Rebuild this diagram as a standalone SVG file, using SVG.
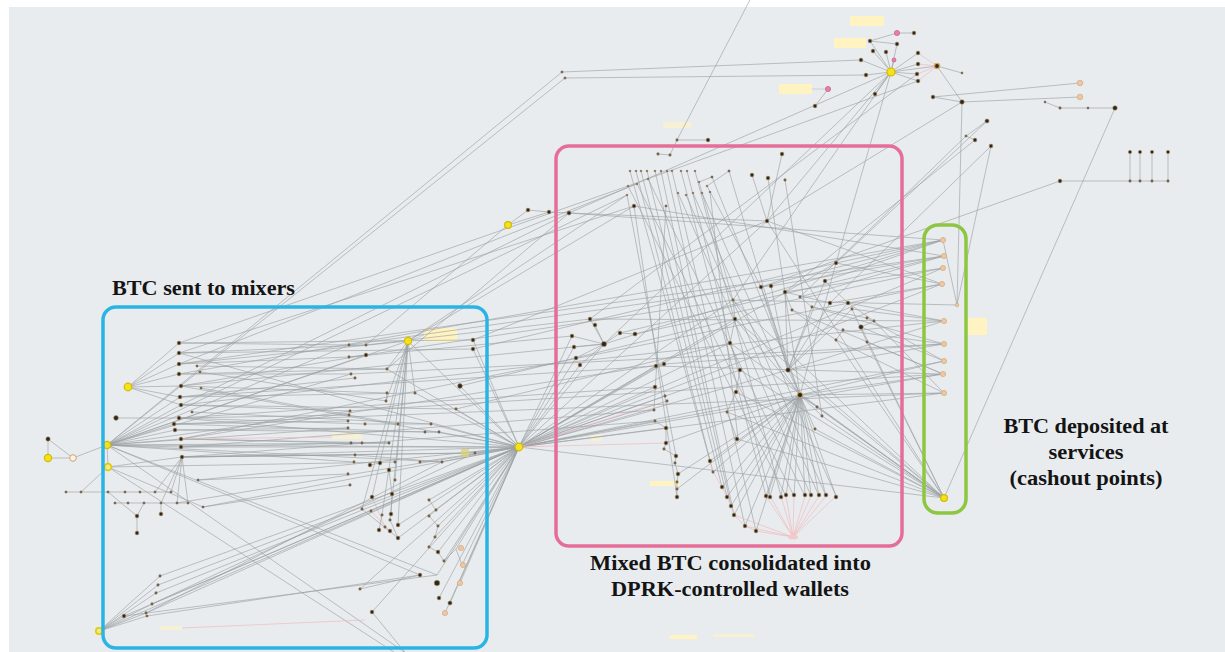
<svg xmlns="http://www.w3.org/2000/svg" width="1225" height="652" viewBox="0 0 1225 652">
<style>
.bg{fill:#e9ecef}
.e path{fill:none;stroke:#9aa0a4;stroke-width:0.75;stroke-opacity:0.85}
.e path.p{stroke:#efb9bd;stroke-opacity:0.9}
.e path.f{stroke-opacity:0.5}
.y{fill:#f3e21c;stroke:#d2bb00;stroke-width:1.2}
.yo{fill:#f2ea86;stroke:#e2c900;stroke-width:1.6}
.d{fill:#2b2722;stroke:#b99360;stroke-width:0.6}
.s{fill:#5c554d;stroke:#c2a27a;stroke-width:0.4}
.o{fill:#ebc9a4;stroke:#d6a679;stroke-width:0.7}
.pk{fill:#e67fa9;stroke:#c85a88;stroke-width:0.7}
.w{fill:#fbf3e8;stroke:#d2a174;stroke-width:1}
.lb{fill:#fff3c2}
.lf{fill:#fff3c2;opacity:0.6}
.box{fill:none;stroke-width:3.5}
.t{font-family:"Liberation Serif","Times New Roman",serif;font-weight:bold;font-size:21px;fill:#141414}
</style>
<rect x="0" y="0" width="1225" height="652" fill="#ffffff"/>
<rect class="bg" x="9" y="7" width="1216" height="645"/>
<g id="labels-rects">
<rect class="lb" x="424" y="328" width="33" height="14"/>
<rect class="lf" x="332" y="433" width="30" height="6"/>
<rect class="lb" x="850" y="16" width="34" height="10"/>
<rect class="lb" x="834" y="38" width="32" height="10"/>
<rect class="lb" x="779" y="84" width="33" height="10"/>
<rect class="lf" x="663" y="122" width="28" height="6"/>
<rect class="lb" x="650" y="481" width="30" height="5"/>
<rect class="lb" x="965" y="318" width="22" height="17"/>
<rect class="lb" x="670" y="635" width="27" height="4"/>
<rect class="lf" x="713" y="634" width="42" height="3"/>
<rect class="lf" x="590" y="435" width="12" height="6"/>
<rect class="lf" x="160" y="626" width="22" height="4"/>
</g>
<g id="connectors" class="e">
<path d="M562 72L861 60"/><path d="M565 78L866 75"/><path d="M562 72L107 445"/><path d="M565 78L107 445"/>
<path d="M752 -4L677 140"/><path d="M677 140L708 140"/><path d="M677 140L670 155"/>
<path d="M891 72L870 41"/><path d="M891 72L873 51"/><path d="M891 72L886 52"/><path d="M891 72L861 60"/><path d="M891 72L866 75"/><path d="M891 72L918 53"/><path d="M891 72L918 64"/><path d="M891 72L917 74"/><path d="M891 72L918 81"/><path d="M891 72L875 94"/><path d="M891 72L897 44"/><path d="M891 72L894 60"/><path d="M891 72L937 66"/>
<path d="M897 33L914 33"/><path d="M870 41L897 33"/><path d="M870 41L897 44"/><path d="M828 89L815 106"/><path class="f" d="M812 89L828 89"/>
<path class="p" d="M937 66L918 53"/><path class="p" d="M937 66L918 64"/><path class="p" d="M937 66L917 74"/><path class="p" d="M937 66L918 81"/><path d="M937 66L962 73"/><path d="M937 66L962 102"/>
<path d="M933 97L1080 83"/><path d="M962 102L1080 97"/><path d="M933 97L962 102"/>
<path d="M1045 102L1060 108"/><path d="M1060 108L1088 108"/><path d="M1088 108L1115 108"/><path d="M1115 108L944 498"/>
<path d="M962 102L957 305"/><path d="M991 146L957 305"/>
<path d="M1060 181L1168 181"/><path d="M1130 152L1130 181"/><path d="M1140 152L1140 181"/><path d="M1152 152L1152 181"/><path d="M1168 152L1168 181"/><path d="M1060 181L761 287"/>
<path d="M891 72L836 263"/><path d="M891 72L767 221"/><path d="M891 72L733 300"/><path d="M891 72L604 344"/><path d="M891 72L569 213"/><path d="M918 81L628 186"/><path d="M917 74L590 319"/><path d="M962 102L767 221"/>
<path d="M987 121L836 263"/><path d="M966 136L800 297"/><path d="M975 140L785 292"/><path d="M991 146L830 303"/><path d="M987 121L966 136"/><path d="M966 136L975 140"/>
<path d="M508 225L528 210"/><path d="M528 210L549 212"/><path d="M508 225L549 212"/><path d="M549 212L569 213"/><path d="M569 213L767 221"/><path d="M782 154L767 221"/><path d="M658 154L670 155"/>
<path d="M630 171L710 461"/><path d="M636 171L713 472"/><path d="M641 171L722 487"/><path d="M647 171L727 497"/><path d="M655 171L731 506"/><path d="M661 171L734 515"/><path d="M667 171L745 526"/><path d="M672 171L756 531"/><path d="M681 171L766 496"/><path d="M687 171L770 496"/><path d="M695 171L781 496"/><path d="M628 186L786 496"/><path d="M637 184L794 496"/><path d="M648 179L805 496"/><path d="M627 195L676 456"/><path d="M678 193L811 496"/><path d="M686 195L819 496"/><path d="M693 193L826 496"/><path d="M702 193L836 496"/><path d="M710 192L738 439"/><path d="M712 177L800 395"/><path d="M729 171L788 370"/><path d="M752 175L767 221"/><path d="M768 178L800 395"/><path d="M785 180L822 416"/><path d="M634 206L677 497"/><path d="M666 206L654 410"/><path d="M699 182L733 300"/><path d="M707 186L761 287"/><path d="M699 182L712 177"/><path d="M707 186L729 171"/>
<path d="M604 344L590 319"/><path d="M604 344L595 325"/><path d="M604 344L572 336"/><path d="M604 344L574 347"/><path d="M604 344L576 358"/><path d="M604 344L580 365"/><path d="M604 344L620 333"/><path d="M620 333L635 334"/><path d="M604 344L519 447"/>
<path d="M519 447L572 336"/><path d="M519 447L574 347"/><path d="M519 447L576 358"/><path d="M519 447L580 365"/><path d="M519 447L656 366"/><path d="M519 447L664 364"/><path d="M519 447L655 387"/><path d="M519 447L665 396"/><path d="M519 447L667 401"/><path d="M519 447L654 410"/><path d="M519 447L655 421"/><path d="M519 447L666 428"/><path d="M519 447L800 395"/><path d="M519 447L788 370"/><path d="M519 447L735 319"/><path d="M519 447L730 343"/><path d="M519 447L740 370"/><path d="M519 447L944 498"/><path d="M519 447L944 393"/><path d="M519 447L943 374"/><path d="M519 447L944 361"/><path d="M519 447L733 300"/><path d="M519 447L767 221"/><path d="M519 447L836 263"/><path d="M519 447L943 268"/><path d="M519 447L942 284"/><path class="p" d="M519 447L654 404"/><path class="p" d="M519 447L666 443"/>
<path d="M655 421L666 428L666 443L664 449L676 456L675 463L678 474L677 482L677 489L677 497"/>
<path class="p" d="M710 461L713 472L722 487L727 497L731 506L734 515L745 526L756 531L793 537"/>
<path class="p" d="M766 496L793 537"/><path class="p" d="M770 496L793 537"/><path class="p" d="M781 496L793 537"/><path class="p" d="M786 496L793 537"/><path class="p" d="M794 496L793 537"/><path class="p" d="M805 496L793 537"/><path class="p" d="M811 496L793 537"/><path class="p" d="M819 496L793 537"/><path class="p" d="M826 496L793 537"/><path class="p" d="M836 496L793 537"/><path class="p" d="M745 526L793 537"/><path class="p" d="M734 515L793 537"/>
<path d="M800 395L766 496"/><path d="M800 395L770 496"/><path d="M800 395L781 496"/><path d="M800 395L786 496"/><path d="M800 395L794 496"/><path d="M800 395L805 496"/><path d="M800 395L811 496"/><path d="M800 395L819 496"/><path d="M800 395L826 496"/><path d="M800 395L836 496"/>
<path d="M800 395L710 461"/><path d="M800 395L713 472"/><path d="M800 395L722 487"/><path d="M800 395L727 497"/><path d="M800 395L731 506"/><path d="M800 395L734 515"/><path d="M800 395L745 526"/><path d="M800 395L756 531"/><path d="M800 395L678 474"/><path d="M800 395L677 489"/><path d="M800 395L666 443"/>
<path d="M800 395L788 370"/><path d="M800 395L817 407"/><path d="M800 395L822 416"/><path d="M800 395L815 429"/><path d="M800 395L735 319"/><path d="M800 395L761 287"/><path d="M800 395L836 263"/><path d="M800 395L733 300"/><path d="M800 395L944 498"/><path d="M800 395L944 393"/><path d="M800 395L944 361"/><path d="M800 395L943 374"/>
<path d="M788 370L785 292"/><path d="M788 370L761 287"/><path d="M788 370L771 286"/><path d="M788 370L812 307"/><path d="M788 370L830 303"/><path d="M788 370L848 303"/><path d="M788 370L852 309"/><path d="M788 370L825 281"/><path d="M788 370L944 321"/><path d="M788 370L944 344"/><path d="M788 370L944 498"/>
<path d="M761 287L943 240"/><path d="M771 286L944 256"/><path d="M825 281L943 240"/><path d="M785 292L943 268"/><path d="M800 297L944 256"/><path d="M830 303L942 284"/><path d="M848 303L944 321"/><path d="M812 307L944 344"/><path d="M852 309L944 321"/><path d="M867 318L944 361"/><path d="M792 310L943 374"/><path d="M874 321L944 393"/><path d="M861 327L944 361"/><path d="M867 342L943 374"/><path d="M836 340L944 393"/><path d="M843 330L944 344"/><path d="M836 263L942 284"/><path d="M836 263L943 240"/>
<path d="M733 300L944 498"/><path d="M767 221L944 498"/><path d="M735 319L944 498"/><path d="M730 343L944 498"/><path d="M740 370L944 498"/><path d="M736 392L944 498"/><path d="M727 412L944 498"/><path d="M737 439L944 498"/><path d="M817 407L944 498"/><path d="M822 416L944 498"/><path d="M815 429L944 498"/><path d="M836 340L944 498"/><path d="M867 342L944 498"/><path d="M861 327L944 498"/>
<path d="M604 344L943 240"/><path d="M620 333L944 256"/><path d="M635 334L943 268"/><path d="M590 319L944 321"/><path d="M664 364L944 344"/><path d="M656 366L943 374"/><path d="M569 213L943 240"/><path d="M634 206L944 256"/><path d="M767 221L942 284"/><path d="M733 300L957 305"/><path d="M957 305L943 240"/>
<path d="M785 292L792 310"/><path d="M785 292L830 303"/><path d="M800 297L812 307"/><path d="M825 281L848 303"/><path d="M836 340L843 330"/><path d="M874 321L861 327"/><path d="M852 309L867 342"/><path d="M792 310L836 340"/><path d="M812 307L867 318"/><path d="M848 303L874 321"/><path d="M771 286L761 287"/><path d="M733 300L735 319L730 343L740 370L736 392L727 412L737 439"/>
<path d="M107 445L627 195"/><path d="M179 343L628 186"/><path d="M179 353L634 206"/><path d="M179 364L637 184"/><path d="M181 386L604 344"/><path d="M180 397L656 366"/><path d="M181 405L569 213"/><path d="M179 418L655 387"/><path d="M181 439L664 364"/><path d="M181 447L654 410"/><path d="M182 457L655 421"/>
<path d="M349 345L761 287"/><path d="M366 345L590 319"/><path d="M349 357L572 336"/><path d="M366 355L733 300"/><path d="M473 340L767 221"/><path d="M473 349L836 263"/><path d="M460 386L735 319"/><path d="M456 409L730 343"/><path d="M387 369L569 213"/><path d="M408 341L634 206"/><path d="M408 341L627 195"/><path d="M366 345L508 225"/>
<path d="M179 374L943 240"/><path d="M179 364L944 256"/><path d="M181 405L944 321"/><path d="M351 374L944 344"/><path d="M350 411L943 374"/><path d="M174 424L944 393"/><path d="M181 439L942 284"/>
<path d="M128 387L179 343"/><path d="M128 387L179 353"/><path d="M128 387L179 364"/><path d="M128 387L179 374"/><path d="M128 387L181 386"/><path d="M128 387L180 397"/><path d="M128 387L181 405"/>
<path d="M107 445L180 397"/><path d="M107 445L181 405"/><path d="M107 445L174 424"/><path d="M107 445L175 430"/><path d="M107 445L181 439"/><path d="M107 445L181 447"/><path d="M107 445L519 447"/><path d="M107 445L349 345"/><path d="M107 445L366 355"/><path d="M107 445L351 374"/><path d="M107 445L350 411"/><path d="M107 445L348 428"/><path d="M107 445L389 443"/><path d="M107 445L354 462"/><path d="M107 445L442 462"/><path d="M107 445L437 575"/><path d="M107 445L420 575"/><path d="M107 445L410 656"/><path d="M107 445L108 467"/><path d="M107 445L73 458"/><path d="M107 445L408 341"/>
<path d="M108 467L182 457"/><path d="M108 467L395 462"/><path d="M108 467L400 656"/><path d="M108 467L203 507"/><path d="M81 492L108 467"/>
<path d="M73 458L48 458"/><path d="M48 439L73 458"/><path d="M48 439L48 458"/><path d="M116 418L179 418"/>
<path d="M179 343L349 345"/><path d="M179 343L473 340"/><path d="M179 353L366 345"/><path d="M179 353L473 349"/><path d="M179 364L349 357"/><path d="M179 364L408 341"/><path d="M179 374L351 374"/><path d="M179 374L387 369"/><path d="M181 386L366 355"/><path d="M181 386L387 393"/><path d="M180 397L355 378"/><path d="M180 397L415 393"/><path d="M181 405L350 411"/><path d="M181 405L456 409"/><path d="M179 418L349 415"/><path d="M179 418L365 424"/><path d="M174 424L348 421"/><path d="M174 424L425 432"/><path d="M175 430L348 428"/><path d="M175 430L439 432"/><path d="M181 439L351 443"/><path d="M181 439L389 443"/><path d="M181 447L362 443"/><path d="M181 447L519 447"/><path d="M182 457L355 455"/><path d="M182 457L465 453"/><path d="M182 457L475 453"/><path d="M197 366L387 369"/><path d="M200 372L386 401"/><path d="M201 388L398 424"/><path d="M192 412L431 424"/><path d="M198 480L348 474"/><path d="M203 507L350 485"/><path d="M179 418L519 447"/><path class="p" d="M181 439L332 437"/>
<path d="M66 492L81 492L108 492L125 492L140 492L155 492L171 492"/><path d="M115 503L128 503L144 503L161 503L177 503L188 503"/><path d="M108 492L137 516"/><path d="M144 503L137 516"/><path d="M137 516L137 533"/><path d="M161 503L161 514"/>
<path d="M155 492L182 457"/><path d="M171 492L182 457"/><path d="M177 503L182 457"/><path d="M188 503L182 457"/><path d="M161 503L182 457"/>
<path d="M408 341L387 369"/><path d="M408 341L386 401"/><path d="M408 341L415 393"/><path d="M408 341L372 497"/><path d="M408 341L382 515"/><path d="M408 341L362 509"/><path d="M408 341L390 520"/><path d="M408 341L398 525"/><path d="M408 341L395 480"/><path d="M408 341L519 447"/><path class="f" d="M408 341L424 335"/>
<path d="M349 345L366 345"/><path d="M349 357L366 355"/><path d="M387 393L386 401"/><path d="M365 424L431 424"/><path d="M425 432L439 432"/><path d="M351 443L389 443"/><path d="M355 455L442 462"/><path d="M370 465L380 463"/><path d="M389 470L392 494L391 514"/><path class="p" d="M372 497L385 527"/><path d="M362 509L398 538"/><path class="p" d="M371 511L390 531"/><path d="M382 515L379 530"/><path d="M390 520L398 538"/>
<path d="M429 500L436 510L429 516L438 526L435 537L429 547L438 552L444 561L456 549L462 565"/>
<path d="M519 447L473 340"/><path d="M519 447L473 349"/><path d="M519 447L460 386"/><path d="M519 447L456 409"/><path d="M519 447L415 393"/><path d="M519 447L431 424"/><path d="M519 447L439 432"/><path d="M519 447L465 453"/><path d="M519 447L475 453"/><path d="M519 447L442 462"/><path d="M519 447L420 462"/><path d="M519 447L429 500"/><path d="M519 447L436 510"/><path d="M519 447L438 526"/><path d="M519 447L435 537"/><path d="M519 447L438 552"/><path d="M519 447L444 561"/><path d="M519 447L456 549"/><path d="M519 447L462 565"/><path d="M519 447L437 575"/><path d="M519 447L460 583"/><path d="M519 447L439 598"/><path d="M519 447L450 603"/><path d="M519 447L445 613"/><path d="M519 447L372 612"/><path d="M519 447L360 589"/><path d="M519 447L398 538"/><path d="M519 447L398 525"/><path d="M519 447L160 576"/><path d="M519 447L158 585"/><path d="M519 447L156 593"/><path d="M519 447L152 604"/><path d="M519 447L146 613"/><path d="M519 447L124 616"/><path d="M519 447L99 631"/><path d="M519 447L387 369"/>
<path d="M519 447L179 353"/><path d="M519 447L181 386"/><path d="M519 447L182 457"/><path d="M519 447L203 507"/><path d="M519 447L198 480"/><path d="M519 447L177 503"/>
<path d="M99 631L124 616"/><path d="M99 631L147 616"/><path d="M99 631L160 576"/><path d="M99 631L158 585"/><path d="M99 631L156 593"/><path d="M99 631L152 604"/><path d="M99 631L146 613"/><path d="M147 616L420 575"/><path d="M146 613L442 462"/><path d="M152 604L475 453"/><path d="M124 616L437 575"/><path class="p" d="M182 628L365 620"/><path d="M372 612L408 656"/><path d="M360 589L420 575"/>
</g>
<g id="nodes">
<g id="n-a1"><circle class="d" cx="48" cy="439" r="2.2"/></g>
<g id="n-a2"><circle class="y" cx="48" cy="458" r="3.6"/></g>
<g id="n-a3"><circle class="w" cx="73" cy="458" r="3.3"/></g>
<g id="n-a4"><circle class="y" cx="107" cy="445" r="3.6"/></g>
<g id="n-a5"><circle class="yo" cx="108" cy="467" r="3.4"/></g>
<g id="n-a6"><circle class="y" cx="128" cy="387" r="3.8"/></g>
<g id="n-a7"><circle class="d" cx="116" cy="418" r="2.4"/></g>
<g id="n-c1"><circle class="d" cx="179" cy="343" r="1.9"/></g>
<g id="n-c2"><circle class="d" cx="179" cy="353" r="1.9"/></g>
<g id="n-c3"><circle class="d" cx="179" cy="364" r="1.9"/></g>
<g id="n-c4"><circle class="d" cx="179" cy="374" r="1.9"/></g>
<g id="n-c5"><circle class="d" cx="181" cy="386" r="1.9"/></g>
<g id="n-c6"><circle class="d" cx="180" cy="397" r="1.9"/></g>
<g id="n-c7"><circle class="d" cx="181" cy="405" r="1.9"/></g>
<g id="n-c8"><circle class="d" cx="179" cy="418" r="1.9"/></g>
<g id="n-c9"><circle class="d" cx="174" cy="424" r="1.9"/></g>
<g id="n-c10"><circle class="d" cx="175" cy="430" r="1.9"/></g>
<g id="n-c11"><circle class="d" cx="181" cy="439" r="1.9"/></g>
<g id="n-c12"><circle class="d" cx="181" cy="447" r="1.9"/></g>
<g id="n-c13"><circle class="d" cx="182" cy="457" r="1.9"/></g>
<g id="n-c14"><circle class="s" cx="197" cy="366" r="1.3"/></g>
<g id="n-c15"><circle class="s" cx="200" cy="372" r="1.3"/></g>
<g id="n-c16"><circle class="s" cx="201" cy="388" r="1.3"/></g>
<g id="n-c17"><circle class="s" cx="192" cy="412" r="1.3"/></g>
<g id="n-c18"><circle class="s" cx="198" cy="480" r="1.3"/></g>
<g id="n-c19"><circle class="s" cx="203" cy="507" r="1.3"/></g>
<g id="n-h1"><circle class="s" cx="66" cy="492" r="1.3"/></g>
<g id="n-h2"><circle class="s" cx="81" cy="492" r="1.3"/></g>
<g id="n-h3"><circle class="s" cx="108" cy="492" r="1.3"/></g>
<g id="n-h4"><circle class="s" cx="125" cy="492" r="1.3"/></g>
<g id="n-h5"><circle class="s" cx="140" cy="492" r="1.3"/></g>
<g id="n-h6"><circle class="s" cx="155" cy="492" r="1.3"/></g>
<g id="n-h7"><circle class="s" cx="171" cy="492" r="1.3"/></g>
<g id="n-h8"><circle class="s" cx="115" cy="503" r="1.3"/></g>
<g id="n-h9"><circle class="s" cx="128" cy="503" r="1.3"/></g>
<g id="n-h10"><circle class="s" cx="144" cy="503" r="1.3"/></g>
<g id="n-h11"><circle class="s" cx="161" cy="503" r="1.3"/></g>
<g id="n-h12"><circle class="s" cx="177" cy="503" r="1.3"/></g>
<g id="n-h13"><circle class="s" cx="188" cy="503" r="1.3"/></g>
<g id="n-h14"><circle class="d" cx="137" cy="516" r="1.9"/></g>
<g id="n-h15"><circle class="d" cx="161" cy="514" r="1.9"/></g>
<g id="n-h16"><circle class="d" cx="137" cy="533" r="1.9"/></g>
<g id="n-b1"><circle class="yo" cx="99" cy="631" r="3.2"/></g>
<g id="n-b2"><circle class="d" cx="124" cy="616" r="1.9"/></g>
<g id="n-b3"><circle class="s" cx="147" cy="616" r="1.3"/></g>
<g id="n-b4"><circle class="s" cx="160" cy="576" r="1.4"/></g>
<g id="n-b5"><circle class="s" cx="158" cy="585" r="1.4"/></g>
<g id="n-b6"><circle class="s" cx="156" cy="593" r="1.4"/></g>
<g id="n-b7"><circle class="s" cx="152" cy="604" r="1.4"/></g>
<g id="n-b8"><circle class="s" cx="146" cy="613" r="1.4"/></g>
<g id="n-r1"><circle class="y" cx="408" cy="341" r="3.6"/></g>
<g id="n-r2"><circle class="d" cx="473" cy="340" r="1.9"/></g>
<g id="n-r3"><circle class="d" cx="473" cy="349" r="1.9"/></g>
<g id="n-r4"><circle class="d" cx="460" cy="386" r="2.4"/></g>
<g id="n-r5"><circle class="s" cx="456" cy="409" r="1.4"/></g>
<g id="n-r6"><circle class="s" cx="349" cy="345" r="1.4"/></g>
<g id="n-r7"><circle class="s" cx="366" cy="345" r="1.4"/></g>
<g id="n-r8"><circle class="s" cx="349" cy="357" r="1.4"/></g>
<g id="n-r9"><circle class="d" cx="366" cy="355" r="1.9"/></g>
<g id="n-r10"><circle class="s" cx="351" cy="374" r="1.4"/></g>
<g id="n-r11"><circle class="s" cx="355" cy="378" r="1.4"/></g>
<g id="n-r12"><circle class="s" cx="387" cy="369" r="1.4"/></g>
<g id="n-r13"><circle class="s" cx="387" cy="393" r="1.4"/></g>
<g id="n-r14"><circle class="s" cx="386" cy="401" r="1.4"/></g>
<g id="n-r15"><circle class="s" cx="415" cy="393" r="1.4"/></g>
<g id="n-r16"><circle class="s" cx="350" cy="411" r="1.4"/></g>
<g id="n-r17"><circle class="s" cx="349" cy="415" r="1.4"/></g>
<g id="n-r18"><circle class="s" cx="348" cy="421" r="1.4"/></g>
<g id="n-r19"><circle class="s" cx="348" cy="428" r="1.4"/></g>
<g id="n-r20"><circle class="s" cx="365" cy="424" r="1.4"/></g>
<g id="n-r21"><circle class="s" cx="398" cy="424" r="1.4"/></g>
<g id="n-r22"><circle class="s" cx="431" cy="424" r="1.4"/></g>
<g id="n-r23"><circle class="s" cx="425" cy="432" r="1.4"/></g>
<g id="n-r24"><circle class="s" cx="439" cy="432" r="1.4"/></g>
<g id="n-r25"><circle class="s" cx="351" cy="443" r="1.4"/></g>
<g id="n-r26"><circle class="s" cx="362" cy="443" r="1.4"/></g>
<g id="n-r27"><circle class="s" cx="389" cy="443" r="1.4"/></g>
<g id="n-r28"><rect x="461" y="449" width="8" height="8" fill="#d8d27a" opacity="0.8"/></g>
<g id="n-r29"><circle class="s" cx="475" cy="453" r="1.4"/></g>
<g id="n-r30"><circle class="s" cx="355" cy="455" r="1.4"/></g>
<g id="n-r31"><circle class="s" cx="354" cy="462" r="1.4"/></g>
<g id="n-r32"><circle class="d" cx="370" cy="465" r="1.9"/></g>
<g id="n-r33"><circle class="d" cx="380" cy="463" r="1.9"/></g>
<g id="n-r34"><circle class="s" cx="395" cy="462" r="1.4"/></g>
<g id="n-r35"><circle class="s" cx="420" cy="462" r="1.4"/></g>
<g id="n-r36"><circle class="s" cx="442" cy="462" r="1.4"/></g>
<g id="n-r37"><circle class="s" cx="348" cy="474" r="1.4"/></g>
<g id="n-r38"><circle class="s" cx="350" cy="485" r="1.4"/></g>
<g id="n-r39"><circle class="d" cx="389" cy="470" r="1.9"/></g>
<g id="n-r40"><circle class="s" cx="395" cy="480" r="1.4"/></g>
<g id="n-r41"><circle class="d" cx="392" cy="494" r="1.9"/></g>
<g id="n-r42"><circle class="d" cx="391" cy="514" r="1.9"/></g>
<g id="n-r43"><circle class="d" cx="372" cy="497" r="1.9"/></g>
<g id="n-r44"><circle class="s" cx="362" cy="509" r="1.4"/></g>
<g id="n-r45"><circle class="s" cx="371" cy="511" r="1.4"/></g>
<g id="n-r46"><circle class="s" cx="382" cy="515" r="1.4"/></g>
<g id="n-r47"><circle class="s" cx="390" cy="520" r="1.4"/></g>
<g id="n-r48"><circle class="s" cx="385" cy="527" r="1.4"/></g>
<g id="n-r49"><circle class="d" cx="398" cy="525" r="1.9"/></g>
<g id="n-r50"><circle class="d" cx="379" cy="530" r="1.9"/></g>
<g id="n-r51"><circle class="d" cx="390" cy="531" r="1.9"/></g>
<g id="n-r52"><circle class="d" cx="398" cy="538" r="1.9"/></g>
<g id="n-r53"><circle class="s" cx="429" cy="500" r="1.4"/></g>
<g id="n-r54"><circle class="s" cx="436" cy="510" r="1.4"/></g>
<g id="n-r55"><circle class="s" cx="429" cy="516" r="1.4"/></g>
<g id="n-r56"><circle class="s" cx="438" cy="526" r="1.4"/></g>
<g id="n-r57"><circle class="s" cx="435" cy="537" r="1.4"/></g>
<g id="n-r58"><circle class="s" cx="429" cy="547" r="1.4"/></g>
<g id="n-r59"><circle class="d" cx="438" cy="552" r="1.9"/></g>
<g id="n-r60"><circle class="s" cx="444" cy="561" r="1.4"/></g>
<g id="n-r61"><circle class="o" cx="461" cy="548" r="2.6"/></g>
<g id="n-r62"><circle class="o" cx="463" cy="565" r="2.6"/></g>
<g id="n-r63"><circle class="d" cx="437" cy="583" r="2.8"/></g>
<g id="n-r64"><circle class="d" cx="420" cy="575" r="1.9"/></g>
<g id="n-r65"><circle class="o" cx="460" cy="583" r="2.6"/></g>
<g id="n-r66"><circle class="d" cx="439" cy="598" r="1.9"/></g>
<g id="n-r67"><circle class="d" cx="450" cy="603" r="2.1"/></g>
<g id="n-r68"><circle class="o" cx="445" cy="613" r="2.6"/></g>
<g id="n-r69"><circle class="s" cx="360" cy="589" r="1.4"/></g>
<g id="n-r70"><circle class="d" cx="372" cy="612" r="1.9"/></g>
<g id="n-hub"><circle class="y" cx="519" cy="447" r="3.8"/></g>
<g id="n-t1"><circle class="y" cx="508" cy="225" r="3.4"/></g>
<g id="n-t2"><circle class="d" cx="528" cy="210" r="1.9"/></g>
<g id="n-t3"><circle class="d" cx="549" cy="212" r="1.9"/></g>
<g id="n-t4"><circle class="d" cx="569" cy="213" r="2.1"/></g>
<g id="n-t5"><circle class="s" cx="562" cy="72" r="1.3"/></g>
<g id="n-t6"><circle class="s" cx="565" cy="78" r="1.3"/></g>
<g id="n-u1"><circle class="s" cx="677" cy="140" r="1.4"/></g>
<g id="n-u2"><circle class="d" cx="708" cy="140" r="1.9"/></g>
<g id="n-p1"><circle class="s" cx="658" cy="154" r="1.4"/></g>
<g id="n-p2"><circle class="s" cx="670" cy="155" r="1.4"/></g>
<g id="n-p3"><circle class="d" cx="782" cy="154" r="1.9"/></g>
<g id="n-p4"><circle class="s" cx="630" cy="171" r="1.1"/></g>
<g id="n-p5"><circle class="s" cx="636" cy="171" r="1.1"/></g>
<g id="n-p6"><circle class="s" cx="641" cy="171" r="1.1"/></g>
<g id="n-p7"><circle class="s" cx="647" cy="171" r="1.1"/></g>
<g id="n-p8"><circle class="s" cx="655" cy="171" r="1.1"/></g>
<g id="n-p9"><circle class="s" cx="661" cy="171" r="1.1"/></g>
<g id="n-p10"><circle class="s" cx="667" cy="171" r="1.1"/></g>
<g id="n-p11"><circle class="s" cx="672" cy="171" r="1.1"/></g>
<g id="n-p12"><circle class="s" cx="681" cy="171" r="1.1"/></g>
<g id="n-p13"><circle class="s" cx="687" cy="171" r="1.1"/></g>
<g id="n-p14"><circle class="s" cx="695" cy="171" r="1.1"/></g>
<g id="n-p15"><circle class="s" cx="712" cy="177" r="1.3"/></g>
<g id="n-p16"><circle class="s" cx="729" cy="171" r="1.3"/></g>
<g id="n-p17"><circle class="d" cx="752" cy="175" r="1.9"/></g>
<g id="n-p18"><circle class="d" cx="768" cy="178" r="1.9"/></g>
<g id="n-p19"><circle class="s" cx="785" cy="180" r="1.4"/></g>
<g id="n-p20"><circle class="s" cx="628" cy="186" r="1.1"/></g>
<g id="n-p21"><circle class="s" cx="637" cy="184" r="1.1"/></g>
<g id="n-p22"><circle class="s" cx="648" cy="179" r="1.1"/></g>
<g id="n-p23"><circle class="s" cx="699" cy="182" r="1.1"/></g>
<g id="n-p24"><circle class="s" cx="707" cy="186" r="1.1"/></g>
<g id="n-p25"><circle class="s" cx="627" cy="195" r="1.1"/></g>
<g id="n-p26"><circle class="s" cx="678" cy="193" r="1.1"/></g>
<g id="n-p27"><circle class="s" cx="686" cy="195" r="1.1"/></g>
<g id="n-p28"><circle class="s" cx="693" cy="193" r="1.1"/></g>
<g id="n-p29"><circle class="s" cx="702" cy="193" r="1.1"/></g>
<g id="n-p30"><circle class="s" cx="710" cy="192" r="1.1"/></g>
<g id="n-p31"><circle class="d" cx="634" cy="206" r="1.9"/></g>
<g id="n-p32"><circle class="s" cx="666" cy="206" r="1.3"/></g>
<g id="n-p33"><circle class="d" cx="767" cy="221" r="1.9"/></g>
<g id="n-p34"><circle class="d" cx="836" cy="263" r="1.9"/></g>
<g id="n-p35"><circle class="d" cx="761" cy="287" r="1.9"/></g>
<g id="n-p36"><circle class="d" cx="771" cy="286" r="1.9"/></g>
<g id="n-p37"><circle class="d" cx="825" cy="281" r="1.9"/></g>
<g id="n-p38"><circle class="d" cx="785" cy="292" r="1.9"/></g>
<g id="n-p39"><circle class="s" cx="733" cy="300" r="1.4"/></g>
<g id="n-p40"><circle class="s" cx="800" cy="297" r="1.4"/></g>
<g id="n-p41"><circle class="d" cx="830" cy="303" r="1.9"/></g>
<g id="n-p42"><circle class="d" cx="848" cy="303" r="1.9"/></g>
<g id="n-p43"><circle class="s" cx="812" cy="307" r="1.4"/></g>
<g id="n-p44"><circle class="s" cx="852" cy="309" r="1.4"/></g>
<g id="n-p45"><circle class="s" cx="867" cy="318" r="1.4"/></g>
<g id="n-p46"><circle class="d" cx="590" cy="319" r="1.9"/></g>
<g id="n-p47"><circle class="d" cx="595" cy="325" r="1.9"/></g>
<g id="n-p48"><circle class="d" cx="572" cy="336" r="1.9"/></g>
<g id="n-p49"><circle class="d" cx="574" cy="347" r="1.9"/></g>
<g id="n-p50"><circle class="d" cx="576" cy="358" r="1.9"/></g>
<g id="n-p51"><circle class="d" cx="580" cy="365" r="1.9"/></g>
<g id="n-p52"><circle class="d" cx="604" cy="344" r="2.6"/></g>
<g id="n-p53"><circle class="d" cx="620" cy="333" r="1.9"/></g>
<g id="n-p54"><circle class="d" cx="635" cy="334" r="2.1"/></g>
<g id="n-p55"><circle class="s" cx="792" cy="310" r="1.4"/></g>
<g id="n-p56"><circle class="s" cx="874" cy="321" r="1.4"/></g>
<g id="n-p57"><circle class="d" cx="861" cy="327" r="2.3"/></g>
<g id="n-p58"><circle class="s" cx="867" cy="342" r="1.4"/></g>
<g id="n-p59"><circle class="s" cx="836" cy="340" r="1.4"/></g>
<g id="n-p60"><circle class="s" cx="843" cy="330" r="1.4"/></g>
<g id="n-p61"><circle class="d" cx="735" cy="319" r="1.9"/></g>
<g id="n-p62"><circle class="d" cx="730" cy="343" r="1.9"/></g>
<g id="n-p63"><circle class="d" cx="740" cy="370" r="1.9"/></g>
<g id="n-p64"><circle class="d" cx="736" cy="392" r="1.9"/></g>
<g id="n-p65"><circle class="s" cx="727" cy="412" r="1.4"/></g>
<g id="n-p66"><circle class="d" cx="737" cy="439" r="1.9"/></g>
<g id="n-p67"><circle class="d" cx="788" cy="370" r="2.3"/></g>
<g id="n-p68"><circle class="d" cx="800" cy="395" r="2.6" style="stroke:#d0a050;stroke-width:1"/></g>
<g id="n-p69"><circle class="s" cx="817" cy="407" r="1.4"/></g>
<g id="n-p70"><circle class="s" cx="822" cy="416" r="1.4"/></g>
<g id="n-p71"><circle class="s" cx="815" cy="429" r="1.4"/></g>
<g id="n-p72"><circle class="d" cx="656" cy="366" r="1.9"/></g>
<g id="n-p73"><circle class="d" cx="664" cy="364" r="1.9"/></g>
<g id="n-p74"><circle class="d" cx="655" cy="387" r="1.9"/></g>
<g id="n-p75"><circle class="s" cx="665" cy="396" r="1.4"/></g>
<g id="n-p76"><circle class="s" cx="667" cy="401" r="1.4"/></g>
<g id="n-p77"><circle class="s" cx="654" cy="410" r="1.4"/></g>
<g id="n-p79"><circle class="s" cx="655" cy="421" r="1.4"/></g>
<g id="n-p80"><circle class="d" cx="666" cy="428" r="1.9"/></g>
<g id="n-p81"><circle class="d" cx="666" cy="443" r="1.9"/></g>
<g id="n-p82"><circle class="s" cx="664" cy="449" r="1.4"/></g>
<g id="n-p83"><circle class="d" cx="676" cy="456" r="1.9"/></g>
<g id="n-p84"><circle class="s" cx="675" cy="463" r="1.4"/></g>
<g id="n-p85"><circle class="d" cx="678" cy="474" r="1.9"/></g>
<g id="n-p86"><circle class="s" cx="677" cy="482" r="1.4"/></g>
<g id="n-p87"><circle class="s" cx="677" cy="489" r="1.4"/></g>
<g id="n-p88"><circle class="d" cx="677" cy="497" r="1.9"/></g>
<g id="n-p89"><circle class="d" cx="710" cy="461" r="1.9"/></g>
<g id="n-p90"><circle class="s" cx="713" cy="472" r="1.4"/></g>
<g id="n-p91"><circle class="d" cx="722" cy="487" r="1.9"/></g>
<g id="n-p92"><circle class="d" cx="727" cy="497" r="1.9"/></g>
<g id="n-p93"><circle class="d" cx="731" cy="506" r="1.9"/></g>
<g id="n-p94"><circle class="d" cx="734" cy="515" r="1.9"/></g>
<g id="n-p95"><circle class="d" cx="745" cy="526" r="1.9"/></g>
<g id="n-p96"><circle class="d" cx="756" cy="531" r="1.9"/></g>
<g id="n-q1"><circle class="d" cx="766" cy="496" r="1.9"/></g>
<g id="n-q2"><circle class="d" cx="770" cy="497" r="1.9"/></g>
<g id="n-q3"><circle class="d" cx="781" cy="497" r="1.9"/></g>
<g id="n-q4"><circle class="d" cx="786" cy="495" r="1.9"/></g>
<g id="n-q5"><circle class="d" cx="794" cy="495" r="1.9"/></g>
<g id="n-q6"><circle class="d" cx="805" cy="495" r="1.9"/></g>
<g id="n-q7"><circle class="d" cx="811" cy="495" r="1.9"/></g>
<g id="n-q8"><circle class="d" cx="819" cy="495" r="1.9"/></g>
<g id="n-q9"><circle class="d" cx="826" cy="495" r="1.9"/></g>
<g id="n-q10"><circle class="d" cx="836" cy="497" r="1.9"/></g>
<g id="n-q11"><ellipse cx="793" cy="537" rx="5" ry="2.5" fill="#f6c9c9"/></g>
<g id="n-g1"><circle class="o" cx="943" cy="240" r="2.6"/></g>
<g id="n-g2"><circle class="o" cx="944" cy="256" r="2.6"/></g>
<g id="n-g3"><circle class="o" cx="943" cy="268" r="2.6"/></g>
<g id="n-g4"><circle class="o" cx="942" cy="284" r="2.6"/></g>
<g id="n-g5"><circle class="o" cx="957" cy="305" r="1.8"/></g>
<g id="n-g6"><circle class="o" cx="944" cy="321" r="2.6"/></g>
<g id="n-g7"><circle class="o" cx="944" cy="344" r="2.6"/></g>
<g id="n-g8"><circle class="o" cx="944" cy="361" r="2.6"/></g>
<g id="n-g9"><circle class="o" cx="943" cy="374" r="2.6"/></g>
<g id="n-g10"><circle class="o" cx="944" cy="393" r="2.6"/></g>
<g id="n-G"><circle class="y" cx="944" cy="498" r="3.4"/></g>
<g id="n-k1"><circle class="y" cx="891" cy="72" r="4"/></g>
<g id="n-k2"><circle class="pk" cx="897" cy="33" r="2.6"/></g>
<g id="n-k3"><circle class="pk" cx="828" cy="89" r="2.6"/></g>
<g id="n-k4"><circle class="pk" cx="894" cy="60" r="2"/></g>
<g id="n-k5"><circle class="d" cx="914" cy="33" r="1.9"/></g>
<g id="n-k6"><circle class="d" cx="870" cy="41" r="1.9"/></g>
<g id="n-k7"><circle class="d" cx="897" cy="44" r="1.9"/></g>
<g id="n-k8"><circle class="d" cx="873" cy="51" r="1.9"/></g>
<g id="n-k9"><circle class="d" cx="886" cy="52" r="1.9"/></g>
<g id="n-k10"><circle class="d" cx="918" cy="53" r="1.9"/></g>
<g id="n-k11"><circle class="d" cx="918" cy="64" r="1.9"/></g>
<g id="n-k12"><circle class="d" cx="917" cy="74" r="1.9"/></g>
<g id="n-k13"><circle class="d" cx="918" cy="81" r="1.9"/></g>
<g id="n-k14"><circle class="d" cx="861" cy="60" r="1.9"/></g>
<g id="n-k15"><circle class="d" cx="866" cy="75" r="1.9"/></g>
<g id="n-k16"><circle class="d" cx="875" cy="94" r="1.9"/></g>
<g id="n-k17"><circle class="d" cx="937" cy="66" r="2.6" style="stroke:#d9a860;stroke-width:1.4"/></g>
<g id="n-k18"><circle class="s" cx="962" cy="73" r="1.2"/></g>
<g id="n-k19"><circle class="d" cx="933" cy="97" r="1.9"/></g>
<g id="n-k20"><circle class="d" cx="962" cy="102" r="2.3"/></g>
<g id="n-k21"><circle class="d" cx="815" cy="106" r="1.9"/></g>
<g id="n-k22"><circle class="d" cx="987" cy="121" r="2.1"/></g>
<g id="n-k23"><circle class="s" cx="966" cy="136" r="1.3"/></g>
<g id="n-k24"><circle class="d" cx="975" cy="140" r="1.9"/></g>
<g id="n-k25"><circle class="d" cx="991" cy="146" r="1.9"/></g>
<g id="n-k26"><circle class="o" cx="1080" cy="83" r="2.8"/></g>
<g id="n-k27"><circle class="o" cx="1080" cy="97" r="2.8"/></g>
<g id="n-k28"><circle class="s" cx="1045" cy="102" r="1.2"/></g>
<g id="n-k29"><circle class="s" cx="1060" cy="108" r="1.4"/></g>
<g id="n-k30"><circle class="s" cx="1088" cy="108" r="1.2"/></g>
<g id="n-k31"><circle class="d" cx="1115" cy="108" r="2.3"/></g>
<g id="n-k32"><circle class="d" cx="1060" cy="181" r="1.9"/></g>
<g id="n-m1"><circle class="d" cx="1130" cy="152" r="1.7"/></g>
<g id="n-m2"><circle class="d" cx="1140" cy="152" r="1.7"/></g>
<g id="n-m3"><circle class="d" cx="1152" cy="152" r="1.7"/></g>
<g id="n-m4"><circle class="d" cx="1168" cy="152" r="1.7"/></g>
<g id="n-m5"><circle class="s" cx="1130" cy="181" r="1.4"/></g>
<g id="n-m6"><circle class="s" cx="1140" cy="181" r="1.4"/></g>
<g id="n-m7"><circle class="s" cx="1152" cy="181" r="1.4"/></g>
<g id="n-m8"><circle class="s" cx="1168" cy="181" r="1.4"/></g>
</g>
<g id="box-mixers"><rect class="box" x="103" y="307" width="384" height="341" rx="13" stroke="#2ab4e6"/></g>
<g id="box-consolidated"><rect class="box" x="556" y="146" width="346" height="400" rx="13" stroke="#e56e98"/></g>
<g id="box-cashout"><rect class="box" x="924" y="225" width="42" height="288" rx="14" stroke="#8dc641"/></g>
<g id="titles">
<text class="t" x="112" y="295" textLength="183" lengthAdjust="spacingAndGlyphs">BTC sent to mixers</text>
<text class="t" x="730.5" y="570" text-anchor="middle" textLength="281" lengthAdjust="spacingAndGlyphs">Mixed BTC consolidated into</text>
<text class="t" x="730" y="596" text-anchor="middle" textLength="238" lengthAdjust="spacingAndGlyphs">DPRK-controlled wallets</text>
<text class="t" x="1086" y="433" text-anchor="middle" textLength="165" lengthAdjust="spacingAndGlyphs">BTC deposited at</text>
<text class="t" x="1086" y="459" text-anchor="middle" textLength="75" lengthAdjust="spacingAndGlyphs">services</text>
<text class="t" x="1086" y="485" text-anchor="middle" textLength="153" lengthAdjust="spacingAndGlyphs">(cashout points)</text>
</g>
</svg>
